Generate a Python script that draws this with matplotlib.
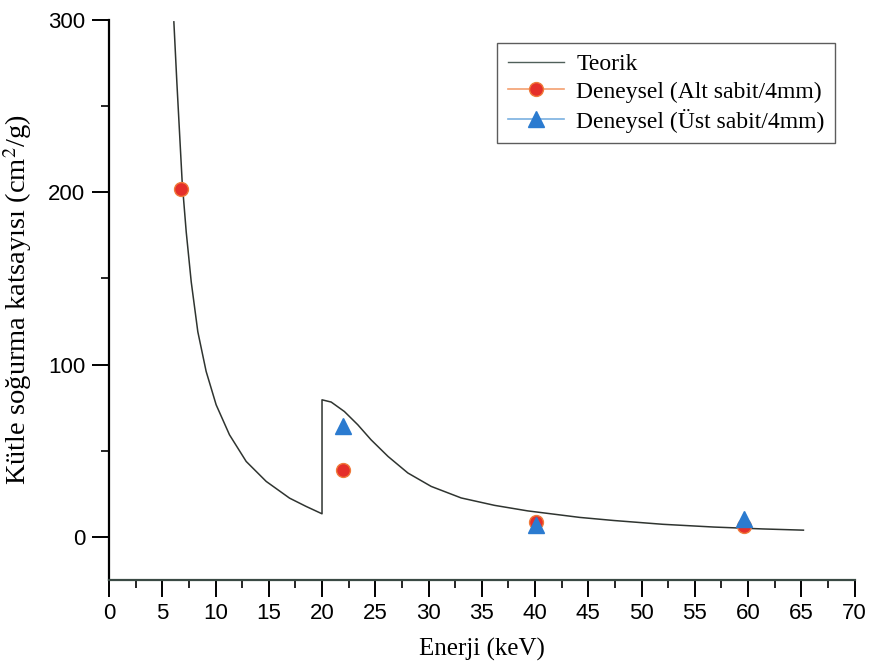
import matplotlib
matplotlib.use("Agg")
import matplotlib.pyplot as plt
from matplotlib.ticker import MultipleLocator
from matplotlib.lines import Line2D

# Theoretical curve
teorik_x = [6.09, 6.37, 6.62, 6.87, 7.25, 7.72, 8.34, 9.12, 10.06, 11.31,
            12.88, 14.76, 16.95, 18.5, 20.0,
            20.0, 20.86, 22.1, 23.36, 24.6, 26.2, 28.06, 30.25, 33.07,
            36.2, 39.3, 44.2, 47.4, 52.0, 56.8, 61.4, 65.2]
teorik_y = [299, 264, 235, 206, 177, 148, 119, 96, 76.6, 59.2,
            43.7, 32.1, 22.4, 17.6, 13.3,
            79.5, 78.2, 72.7, 65.0, 56.3, 46.6, 37.0, 29.2, 22.5,
            18.2, 15.0, 11.2, 9.4, 7.2, 5.6, 4.5, 3.8]

# Experimental data
alt_x = [6.8, 22.0, 40.1, 59.6]
alt_y = [202, 38.5, 8.5, 6.0]
ust_x = [22.0, 40.1, 59.6]
ust_y = [64, 7.0, 10.0]

plt.rcParams['mathtext.fontset'] = 'stix'

fig = plt.figure(figsize=(8.72, 6.71), dpi=100)
ax = fig.add_axes([0.125, 0.136, 0.855, 0.834])

ax.plot(teorik_x, teorik_y, color='#2f3430', lw=1.1, label='Teorik',
        solid_joinstyle='round')
ax.plot(alt_x, alt_y, linestyle='none', marker='o', ms=10,
        markerfacecolor='#e52f2a', markeredgecolor='#f07b3a', mew=1.0,
        color='#f4a070', label='Deneysel (Alt sabit/4mm)')
ax.plot(ust_x, ust_y, linestyle='none', marker='^', ms=11,
        markerfacecolor='#2b7bd0', markeredgecolor='#2b7bd0', mew=1.0,
        color='#7ab0e0', label='Deneysel (Üst sabit/4mm)')

ax.set_xlim(0, 70)
ax.set_ylim(-25, 300)
ax.xaxis.set_major_locator(MultipleLocator(5))
ax.xaxis.set_minor_locator(MultipleLocator(2.5))
ax.yaxis.set_major_locator(MultipleLocator(100))
ax.yaxis.set_minor_locator(MultipleLocator(50))

for s in ['top', 'right']:
    ax.spines[s].set_visible(False)
ax.spines['left'].set_linewidth(1.6)
ax.spines['bottom'].set_linewidth(1.6)
ax.spines['bottom'].set_color('#3a4a44')

ax.tick_params(which='major', direction='out', length=12, width=1.4,
               labelsize=16, pad=5)
ax.tick_params(which='minor', direction='out', length=6, width=1.2)
for lab in ax.get_xticklabels() + ax.get_yticklabels():
    lab.set_family('Liberation Sans')

ax.set_xlabel('Enerji (keV)', family='Liberation Serif', fontsize=18, labelpad=10)
ax.set_ylabel('Kütle soğurma katsayısı (cm$^{2}$/g)', family='Liberation Serif',
              fontsize=20.5, labelpad=10)

handles = [
    Line2D([], [], color='#50605a', lw=1.0),
    Line2D([], [], color='#f4a070', lw=1.2, marker='o', ms=10,
           markerfacecolor='#e52f2a', markeredgecolor='#f07b3a'),
    Line2D([], [], color='#7ab0e0', lw=1.2, marker='^', ms=11,
           markerfacecolor='#2b7bd0', markeredgecolor='#2b7bd0'),
]
labels = ['Teorik', 'Deneysel (Alt sabit/4mm)', 'Deneysel (Üst sabit/4mm)']
leg = ax.legend(handles, labels, loc='upper right', bbox_to_anchor=(0.99, 0.98),
                prop={'family': 'Liberation Serif', 'size': 17},
                frameon=True, fancybox=False, edgecolor='#333333',
                handlelength=2.4, handletextpad=0.5, borderpad=0.45,
                labelspacing=0.25)
leg.get_frame().set_linewidth(1.0)

fig.savefig('out.png', dpi=100)
